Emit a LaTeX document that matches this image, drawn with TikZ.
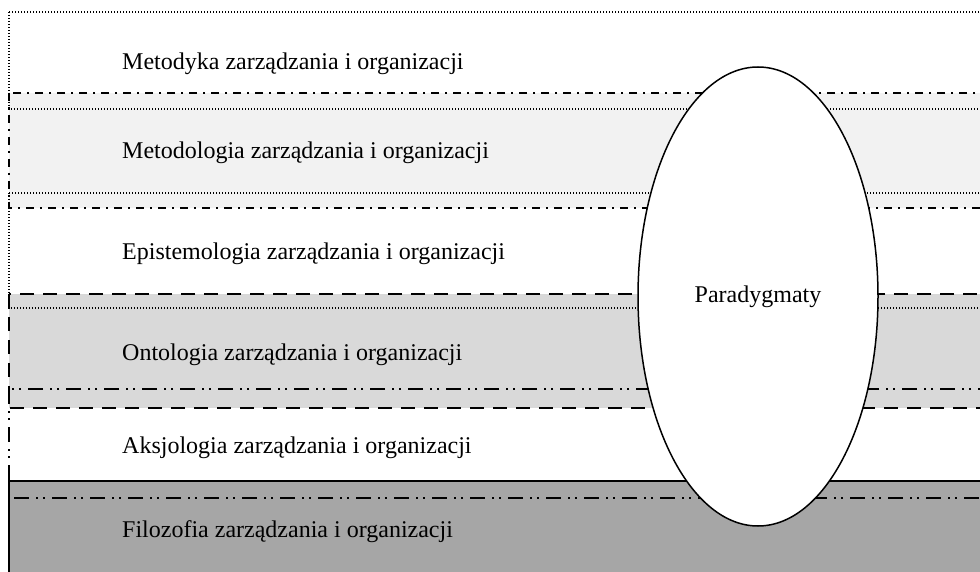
\documentclass[tikz,border=0pt]{standalone}
\usepackage{fontspec}
\setmainfont{Liberation Serif}
\usetikzlibrary{shapes.geometric}
\definecolor{gA}{HTML}{F2F2F2}
\definecolor{gB}{HTML}{D9D9D9}
\definecolor{gC}{HTML}{A6A6A6}
\tikzset{
  lay/.style={font=\fontsize{24}{28}\selectfont, anchor=base west, inner sep=0pt},
  dotline/.style={line width=1.2pt, dash pattern=on 1.3pt off 1.7pt},
  dashdotline/.style={line width=1.6pt, dash pattern=on 8pt off 6pt on 2pt off 6pt},
  dashline/.style={line width=1.6pt, dash pattern=on 14pt off 9pt},
  dashdotdotline/.style={line width=1.4pt, dash pattern=on 15pt off 7pt on 2pt off 5pt on 2pt off 7pt},
  solidline/.style={line width=1.5pt},
  paraellipse/.style={ellipse, draw, fill=white, line width=1.5pt, minimum width=240pt, minimum height=459pt, inner sep=0pt, font=\fontsize{24}{28}\selectfont}
}
\begin{document}
\begin{tikzpicture}[x=1pt,y=-1pt]
\useasboundingbox (0,0) rectangle (980,572);
\clip (0,0) rectangle (980,572);
% fills
\fill[gA] (9,93) rectangle (1000,208);
\fill[gB] (9,294) rectangle (1000,408);
\fill[gC] (9,481) rectangle (1000,600);
% borders
\draw[dotline] (9,12) rectangle (1000,109);
\draw[dashdotline] (9,93) rectangle (1000,208);
\draw[dotline] (9,193) rectangle (1000,308);
\draw[dashline] (9,294) rectangle (1000,408);
\draw[dashdotdotline] (9,389) rectangle (1000,498);
\draw[solidline] (9,481) rectangle (1000,600);
% labels
\node[lay] (metodyka) at (122,70) {Metodyka zarządzania i organizacji};
\node[lay] (metodologia) at (122,159) {Metodologia zarządzania i organizacji};
\node[lay] (epistemologia) at (122,259) {Epistemologia zarządzania i organizacji};
\node[lay] (ontologia) at (122,360) {Ontologia zarządzania i organizacji};
\node[lay] (aksjologia) at (122,453) {Aksjologia zarządzania i organizacji};
\node[lay] (filozofia) at (122,537) {Filozofia zarządzania i organizacji};
% ellipse
\node[paraellipse] (par) at (758,296.5) {Paradygmaty};
\end{tikzpicture}
\end{document}
